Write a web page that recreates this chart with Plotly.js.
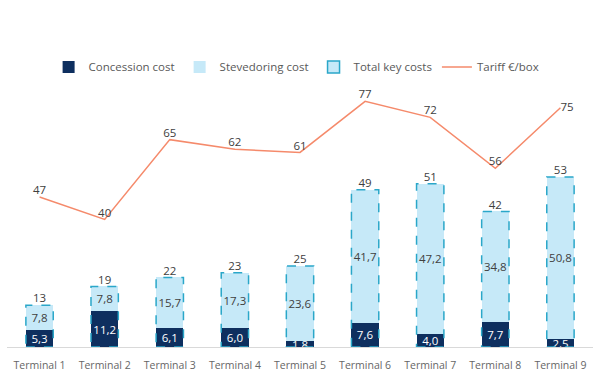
<!DOCTYPE html>
<html><head><meta charset="utf-8">
<script src="https://cdn.plot.ly/plotly-3.0.1.min.js"></script>
<style>html,body{margin:0;padding:0;background:#fff}#chart{width:599px;height:374px}</style>
</head><body><div id="chart"></div>
<script>
const categories = ['Terminal 1','Terminal 2','Terminal 3','Terminal 4','Terminal 5','Terminal 6','Terminal 7','Terminal 8','Terminal 9'];
const concessionCost = [5.3, 11.2, 6.1, 6.0, 1.8, 7.6, 4.0, 7.7, 2.5];
const stevedoringCost = [7.8, 7.8, 15.7, 17.3, 23.6, 41.7, 47.2, 34.8, 50.8];
const totalKeyCosts = [13, 19, 22, 23, 25, 49, 51, 42, 53];
const tariff = [47, 40, 65, 62, 61, 77, 72, 56, 75];

const fmt = v => v.toFixed(1).replace('.', ',');
const stackTop = concessionCost.map((c, i) => c + stevedoringCost[i]);
const FONT = 'Open Sans, Noto Sans, sans-serif';
const BARW = 0.42;
const LBL = 11.5;

const traces = [
  {type:'bar', name:'Concession cost', x:categories, y:concessionCost,
   text:concessionCost.map(fmt), textposition:'inside', insidetextanchor:'middle',
   constraintext:'none', textangle:0,
   textfont:{color:'#ffffff', size:LBL, family:FONT},
   marker:{color:'#0e2f5f'}, hoverinfo:'skip'},
  {type:'bar', name:'Stevedoring cost', x:categories, y:stevedoringCost,
   text:stevedoringCost.map(fmt), textposition:'inside', insidetextanchor:'middle',
   constraintext:'none', textangle:0,
   textfont:{color:'#404040', size:LBL, family:FONT},
   marker:{color:'#c6e9f8'}, hoverinfo:'skip'},
  {type:'bar', name:'Total key costs', x:categories, y:categories.map(() => null),
   marker:{color:'#c6e9f8', line:{color:'#2aa7c9', width:1.5}}, hoverinfo:'skip'},
  {type:'scatter', mode:'text', x:categories, y:stackTop, text:totalKeyCosts.map(String),
   textposition:'top center', textfont:{color:'#404040', size:LBL, family:FONT},
   showlegend:false, hoverinfo:'skip', cliponaxis:false},
  {type:'scatter', mode:'lines', name:'Tariff €/box', x:categories, y:tariff,
   line:{color:'#f58a6b', width:1.5}, hoverinfo:'skip'},
  {type:'scatter', mode:'text', x:categories, y:tariff, text:tariff.map(String),
   textposition:tariff.map((v, i) => i === tariff.length - 1 ? 'middle right' : 'top center'),
   textfont:{color:'#404040', size:LBL, family:FONT},
   showlegend:false, hoverinfo:'skip', cliponaxis:false}
];

const shapes = categories.map((c, i) => ({
  type:'rect', xref:'x', yref:'y', x0:i - BARW/2, x1:i + BARW/2, y0:0, y1:stackTop[i],
  line:{color:'#2aa7c9', width:1.5, dash:'dash'}, fillcolor:'rgba(0,0,0,0)', layer:'above'
}));

const layout = {
  width:599, height:374,
  margin:{l:7, r:6, t:28, b:27},
  paper_bgcolor:'#ffffff', plot_bgcolor:'#ffffff',
  font:{family:FONT, size:12, color:'#595959'},
  barmode:'stack', bargap:0.58,
  showlegend:true,
  legend:{orientation:'h', x:0.071, xanchor:'left', y:0.878, yanchor:'middle',
          font:{size:11.5, color:'#595959', family:FONT}, itemwidth:30, traceorder:'normal'},
  xaxis:{type:'category', showline:true, linecolor:'#d9d9d9', linewidth:1,
         showgrid:false, zeroline:false, ticks:'', ticklabelstandoff:8,
         tickfont:{size:10.5, color:'#666666', family:FONT}},
  yaxis:{range:[0, 100], visible:false, showgrid:false, zeroline:false},
  shapes:shapes
};

Plotly.newPlot('chart', traces, layout, {staticPlot:true, displayModeBar:false});
</script>
</body></html>
